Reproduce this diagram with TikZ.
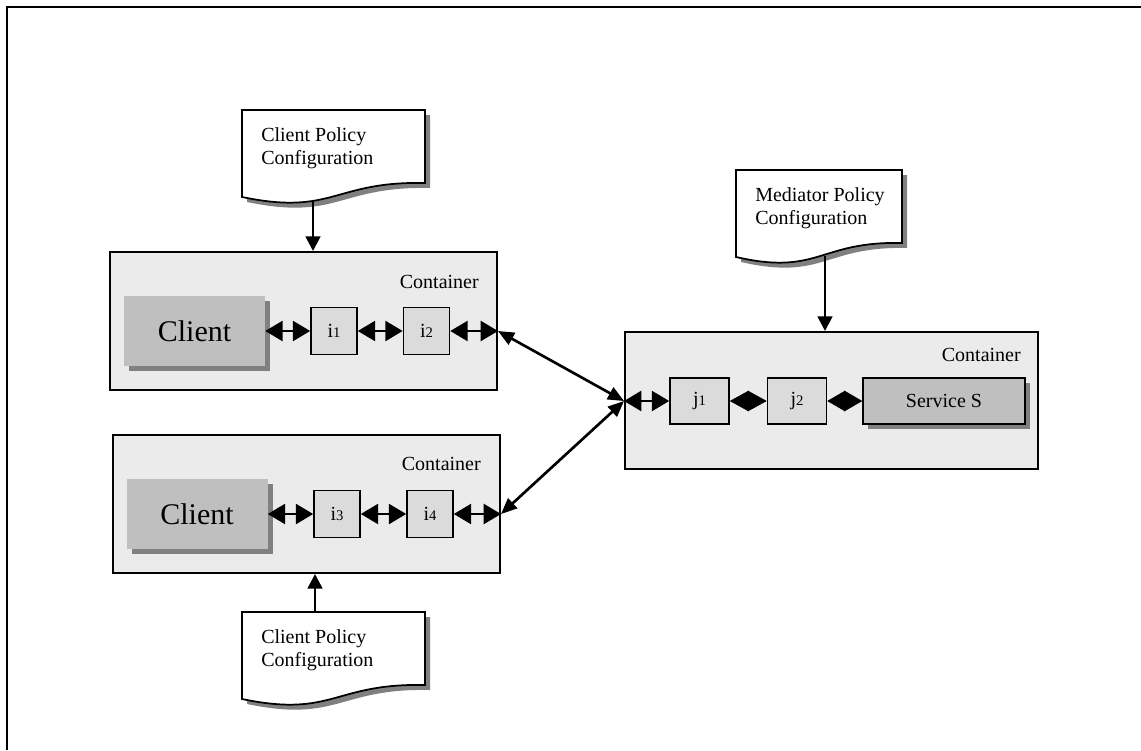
\documentclass[tikz,border=0pt]{standalone}
\usepackage{fontspec}
\setmainfont{Liberation Serif}
\usetikzlibrary{positioning, arrows.meta, calc, shadows}
\definecolor{contgray}{gray}{0.92}
\definecolor{boxgray}{gray}{0.86}
\definecolor{clientgray}{gray}{0.75}
\definecolor{shadowgray}{gray}{0.5}
\newcommand{\subnum}[1]{{\fontsize{11}{12}\selectfont #1}}
% policy document: name, left x, top y, width, text
\newcommand{\policydoc}[5]{%
  \begin{scope}[shift={(#2,#3)}]
    \fill[shadowgray] (5,5) -- ({#4+5},5) -- ({#4+5},78) .. controls ({0.5*#4+5},76) and ({0.5*#4+5},111) .. (5,92) -- cycle;
    \draw[docline] (0,0) -- (#4,0) -- (#4,73) .. controls ({0.5*#4},71) and ({0.5*#4},106) .. (0,87) -- cycle;
    \node[doctext] (#1) at (19,17) {#5};
  \end{scope}}

\begin{document}
\begin{tikzpicture}[x=0.75pt, y=-0.75pt, font=\fontsize{15}{17.5}\selectfont,
  container/.style={draw, line width=1.5pt, fill=contgray},
  tag/.style={anchor=base east, inner sep=0pt},
  client/.style={fill=clientgray, minimum width=105.75pt, minimum height=52.5pt, font=\fontsize{22.5}{27}\selectfont, drop shadow={shadow xshift=3.75pt, shadow yshift=-3.75pt, fill=shadowgray, opacity=1}},
  ibox/.style={draw, line width=1.2pt, fill=boxgray, minimum width=34.5pt, minimum height=35.25pt, inner sep=0pt},
  jbox/.style={draw, line width=1.2pt, fill=boxgray, minimum width=44.25pt, minimum height=34.5pt, inner sep=0pt},
  service/.style={draw, line width=1.2pt, fill=clientgray, minimum width=121.5pt, minimum height=34.5pt, drop shadow={shadow xshift=3.75pt, shadow yshift=-3.75pt, fill=shadowgray, opacity=1}},
  docline/.style={draw, fill=white, line width=1.3pt},
  doctext/.style={anchor=north west, align=left, inner sep=0pt},
  dlink/.style={{Triangle[length=13pt,width=15pt]}-{Triangle[length=13pt,width=15pt]}, line width=1.8pt},
  dmlink/.style={{Triangle[length=#1,width=15.5pt]}-{Triangle[length=#1,width=15.5pt]}, line width=0.4pt},
  dmlink/.default=14.2pt,
  longlink/.style={{Triangle[length=12pt,width=10pt]}-{Triangle[length=12pt,width=10pt]}, line width=2pt},
  feed/.style={-{Triangle[length=11pt,width=11pt]}, line width=2pt}]
\useasboundingbox (0,0) rectangle (1141,750);
\draw[line width=1.6pt] (7,750) -- (7,7) -- (1141,7);

\node[container, minimum width=290.25pt, minimum height=103.5pt] (cont1) at (303.5,321) {};
\node[tag] (cont1-tag) at ($(cont1.north east)+(-19,37)$) {Container};
\node[client] (client1) at (194.5,331) {Client};
\node[ibox] (i1) at (334,331) {i\subnum{1}};
\node[ibox] (i2) at (426.5,331) {i\subnum{2}};

\node[container, minimum width=290.25pt, minimum height=103.5pt] (cont2) at (306.5,504) {};
\node[tag] (cont2-tag) at ($(cont2.north east)+(-20,36)$) {Container};
\node[client] (client2) at (197,514) {Client};
\node[ibox] (i3) at (337,514) {i\subnum{3}};
\node[ibox] (i4) at (430,514) {i\subnum{4}};

\node[container, minimum width=309.75pt, minimum height=102.75pt] (cont3) at (831.5,400.5) {};
\node[tag] (cont3-tag) at ($(cont3.north east)+(-18,30)$) {Container};
\node[jbox] (j1) at (699.5,401) {j\subnum{1}};
\node[jbox] (j2) at (797,401) {j\subnum{2}};
\node[service] (svc) at (944,401) {Service S};

\policydoc{doc1}{242}{110}{183}{Client Policy\\Configuration}
\policydoc{doc2}{242}{612}{183}{Client Policy\\Configuration}
\policydoc{doc3}{736}{170}{166}{Mediator Policy\\Configuration}
\coordinate (doc1-out) at (313,201);
\coordinate (doc2-out) at (315,612);
\coordinate (doc3-out) at (825,256);

\draw[dlink] (client1) -- (i1);\draw[dlink] (i1) -- (i2);\draw[dlink] (i2) -- (cont1.east |- i2);
\draw[dlink] (client2) -- (i3);\draw[dlink] (i3) -- (i4);\draw[dlink] (i4) -- (cont2.east |- i4);
\draw[dlink] (cont3.west |- j1) -- (j1);\draw[dmlink] (j1) -- (j2);\draw[dmlink=13.4pt] (j2) -- (svc);
\draw[longlink] (cont1.east |- i2) -- (cont3.west |- j1);
\draw[longlink] (cont2.east |- i4) -- (cont3.west |- j1);
\draw[feed] (doc1-out) -- (doc1-out |- cont1.north);
\draw[feed] (doc2-out) -- (doc2-out |- cont2.south);
\draw[feed] (doc3-out) -- (doc3-out |- cont3.north);
\end{tikzpicture}
\end{document}
